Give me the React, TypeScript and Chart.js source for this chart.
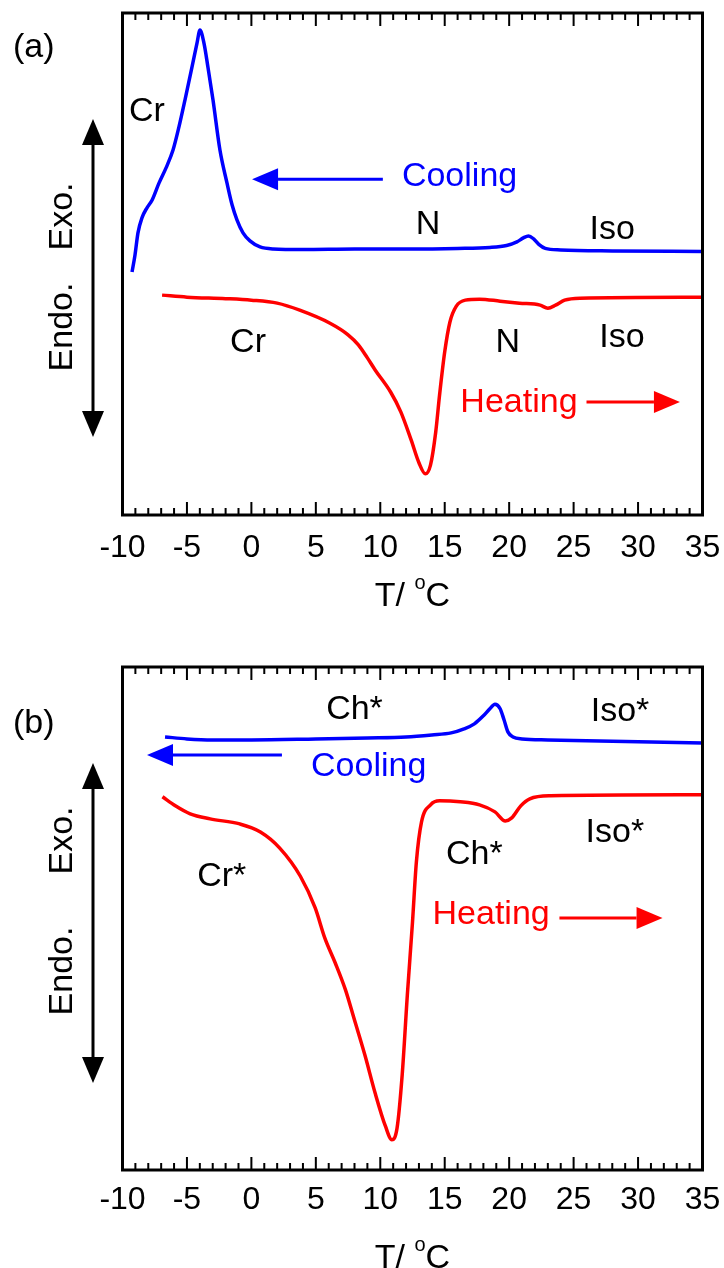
import React, { useEffect, useRef } from "react";
import { Chart, registerables } from "chart.js";

Chart.register(...registerables);

const FONT = '"Liberation Sans", Arial, Helvetica, sans-serif';
const BLUE = "#0000ff";
const RED = "#ff0000";

// Temperature axis (°C)
const T_MIN = -10;
const T_MAX = 35;
const T_STEP = 5;

// ---------- Panel (a) ----------
const coolTempA = [
  -9.26, -9.03, -8.8, -8.49, -8.1, -7.71, -7.17, -6.63, -6.08, -5.62, -5.15, -4.61, -4.22, -3.99,
  -3.68, -3.37, -2.98, -2.44, -1.89, -1.5, -1.12, -0.65, -0.11, 0.67, 1.68, 4, 8, 12, 16, 18.5,
  19.8, 20.6, 21.1, 21.5, 21.9, 22.3, 22.8, 24, 28, 35,
];
const coolFlowA = [
  48.4, 51.8, 56.2, 59.2, 61.2, 62.7, 66.1, 69.1, 72.7, 77.3, 82.7, 89.2, 94.0, 96.6,
  94.0, 89.2, 82.7, 72.7, 66.1, 61.8, 58.8, 56.2, 54.6, 53.4, 53.0, 52.9, 53.0, 53.0, 53.1, 53.3,
  53.7, 54.4, 55.2, 55.6, 55.0, 53.9, 53.1, 52.8, 52.6, 52.5,
];
const heatTempA = [
  -6.93, -5, -2, 0, 2, 3.75, 6.1, 7.5, 8.3, 9.0, 9.6, 10.8, 11.6, 12.4, 13.0, 13.5, 13.9, 14.3,
  14.6, 15.0, 15.4, 15.9, 16.6, 17.7, 19.3, 20.8, 22.4, 23.0, 23.6, 24.3, 25.5, 35,
];
const heatFlowA = [
  43.8, 43.4, 43.1, 42.8, 42.2, 40.8, 38.2, 35.9, 33.9, 31.3, 28.9, 24.5, 20.5, 14.9, 10.4, 8.2,
  10.0, 16.5, 23.9, 32.5, 38.4, 41.6, 42.8, 43.0, 42.6, 42.2, 41.8, 41.2, 41.8, 42.8, 43.2, 43.4,
];

// ---------- Panel (b) ----------
const coolTempB = [
  -6.7, -5, -3, 0, 5, 9, 12, 14, 15.5, 16.5, 17.3, 18.0, 18.5, 18.9, 19.3, 19.6, 19.9, 20.3, 21,
  23, 35,
];
const coolFlowB = [
  86.1, 85.7, 85.5, 85.5, 85.7, 85.9, 86.1, 86.5, 86.9, 87.7, 88.7, 90.3, 91.7, 92.6, 91.7, 89.5,
  87.1, 86.1, 85.7, 85.5, 84.9,
];
const heatTempB = [
  -6.9, -5.9, -4.75, -3.2, -0.9, 0.7, 2.2, 3.8, 4.95, 5.7, 6.5, 7.3, 8.0, 8.8, 9.6, 10.4, 10.9,
  11.3, 11.7, 12.1, 12.5, 12.8, 13.2, 13.9, 14.6, 16.2, 17.7, 18.9, 19.7, 20.2, 20.9, 21.6, 23.2,
  35,
];
const heatFlowB = [
  74.2, 72.4, 70.8, 69.8, 68.8, 67.2, 64.0, 58.4, 52.1, 46.1, 41.2, 35.8, 29.8, 22.9, 15.3, 8.7,
  6.0, 8.3, 18.9, 34.8, 49.3, 61.2, 69.2, 72.6, 73.4, 73.2, 72.6, 71.2, 69.4, 70.0, 72.4, 73.8,
  74.4, 74.6,
];

// Texts
const axisTitleParts = ["T/ ", "o", "C"];
const exoText = "Exo.";
const endoText = "Endo.";

const zip = (t: number[], v: number[]) => t.map((x, i) => ({ x, y: v[i] }));

function drawArrow(ctx: CanvasRenderingContext2D, x1: number, y1: number, x2: number, y2: number, color: string, lw = 3, headLen = 26, headHalf = 11) {
  const ang = Math.atan2(y2 - y1, x2 - x1);
  const bx = x2 - headLen * Math.cos(ang);
  const by = y2 - headLen * Math.sin(ang);
  ctx.strokeStyle = color;
  ctx.fillStyle = color;
  ctx.lineWidth = lw;
  ctx.beginPath();
  ctx.moveTo(x1, y1);
  ctx.lineTo(bx, by);
  ctx.stroke();
  ctx.beginPath();
  ctx.moveTo(x2, y2);
  ctx.lineTo(bx + headHalf * Math.sin(ang), by - headHalf * Math.cos(ang));
  ctx.lineTo(bx - headHalf * Math.sin(ang), by + headHalf * Math.cos(ang));
  ctx.closePath();
  ctx.fill();
}

const decorPlugin = {
  id: "decor",
  afterDraw(chart: any, _args: any, o: any) {
    const { ctx, chartArea: a, scales } = chart;
    const xs = scales.x;
    const ys = scales.y;
    ctx.save();
    // inward ticks (top & bottom)
    ctx.strokeStyle = "#000";
    ctx.lineWidth = 2;
    for (let t = T_MIN + 1; t < T_MAX; t++) {
      const px = xs.getPixelForValue(t);
      const len = t % T_STEP === 0 ? 13 : 7;
      ctx.beginPath();
      ctx.moveTo(px, a.bottom);
      ctx.lineTo(px, a.bottom - len);
      ctx.moveTo(px, a.top);
      ctx.lineTo(px, a.top + len);
      ctx.stroke();
    }
    // frame
    ctx.lineWidth = 3;
    ctx.strokeRect(a.left, a.top, a.right - a.left, a.bottom - a.top);

    // annotations
    ctx.font = `34px ${FONT}`;
    ctx.textAlign = "center";
    ctx.textBaseline = "middle";
    for (const n of o.notes) {
      ctx.fillStyle = n.color;
      ctx.fillText(n.text, xs.getPixelForValue(n.t), ys.getPixelForValue(n.v));
    }
    for (const ar of o.arrows) {
      drawArrow(ctx, xs.getPixelForValue(ar.from[0]), ys.getPixelForValue(ar.from[1]), xs.getPixelForValue(ar.to[0]), ys.getPixelForValue(ar.to[1]), ar.color);
    }

    // panel label
    ctx.fillStyle = "#000";
    ctx.textAlign = "left";
    ctx.textBaseline = "alphabetic";
    ctx.font = `34px ${FONT}`;
    ctx.fillText(o.panelLabel.text, o.panelLabel.x, o.panelLabel.y);

    // Endo./Exo. rotated labels
    const yl = o.yLabel;
    ctx.save();
    ctx.translate(yl.x, yl.exoY);
    ctx.rotate(-Math.PI / 2);
    ctx.textAlign = "center";
    ctx.fillText(exoText, 0, 0);
    ctx.restore();
    ctx.save();
    ctx.translate(yl.x, yl.endoY);
    ctx.rotate(-Math.PI / 2);
    ctx.textAlign = "center";
    ctx.fillText(endoText, 0, 0);
    ctx.restore();
    // double arrow
    const mid = (yl.tipTop + yl.tipBottom) / 2;
    drawArrow(ctx, yl.arrowX, mid, yl.arrowX, yl.tipTop, "#000", 3, 26, 11);
    drawArrow(ctx, yl.arrowX, mid, yl.arrowX, yl.tipBottom, "#000", 3, 26, 11);

    // axis title with superscript
    const big = `34px ${FONT}`;
    const small = `20px ${FONT}`;
    ctx.font = big;
    const w1 = ctx.measureText(axisTitleParts[0]).width;
    const w3 = ctx.measureText(axisTitleParts[2]).width;
    ctx.font = small;
    const w2 = ctx.measureText(axisTitleParts[1]).width;
    const cx = (a.left + a.right) / 2;
    let sx = cx - (w1 + w2 + w3) / 2;
    ctx.fillStyle = "#000";
    ctx.textAlign = "left";
    ctx.font = big;
    ctx.fillText(axisTitleParts[0], sx, o.titleBaseline);
    sx += w1;
    ctx.font = small;
    ctx.fillText(axisTitleParts[1], sx, o.titleBaseline - 17);
    sx += w2;
    ctx.font = big;
    ctx.fillText(axisTitleParts[2], sx, o.titleBaseline);
    ctx.restore();
  },
};

const panels = [
  {
    key: "a",
    canvasTop: 0,
    canvasHeight: 630,
    padTop: 13,
    axisH: 115,
    labelPad: 14,
    coolT: coolTempA,
    coolV: coolFlowA,
    heatT: heatTempA,
    heatV: heatFlowA,
    decor: {
      notes: [
        { text: "Cr", color: "#000", t: -8.1, v: 80.3 },
        { text: "Cooling", color: BLUE, t: 16.15, v: 67.5 },
        { text: "N", color: "#000", t: 13.7, v: 57.8 },
        { text: "Iso", color: "#000", t: 28.0, v: 56.8 },
        { text: "Cr", color: "#000", t: -0.26, v: 34.3 },
        { text: "N", color: "#000", t: 19.9, v: 34.3 },
        { text: "Iso", color: "#000", t: 28.75, v: 35.3 },
        { text: "Heating", color: RED, t: 20.76, v: 22.3 },
      ],
      arrows: [
        { from: [10.2, 66.9], to: [0.05, 66.9], color: BLUE },
        { from: [26.0, 22.5], to: [33.25, 22.5], color: RED },
      ],
      panelLabel: { text: "(a)", x: 13, y: 57 },
      yLabel: { x: 72, exoY: 216.5, endoY: 327, arrowX: 93, tipTop: 119, tipBottom: 437 },
      titleBaseline: 606,
    },
  },
  {
    key: "b",
    canvasTop: 630,
    canvasHeight: 638,
    padTop: 37,
    axisH: 98,
    labelPad: 11.3,
    coolT: coolTempB,
    coolV: coolFlowB,
    heatT: heatTempB,
    heatV: heatFlowB,
    decor: {
      notes: [
        { text: "Ch*", color: "#000", t: 8.0, v: 91.5 },
        { text: "Iso*", color: "#000", t: 28.6, v: 91.1 },
        { text: "Cooling", color: BLUE, t: 9.1, v: 80.1 },
        { text: "Cr*", color: "#000", t: -2.3, v: 58.3 },
        { text: "Ch*", color: "#000", t: 17.3, v: 62.6 },
        { text: "Iso*", color: "#000", t: 28.2, v: 67.0 },
        { text: "Heating", color: RED, t: 18.6, v: 50.7 },
      ],
      arrows: [
        { from: [2.37, 82.5], to: [-8.1, 82.5], color: BLUE },
        { from: [23.9, 50.1], to: [31.9, 50.1], color: RED },
      ],
      panelLabel: { text: "(b)", x: 13, y: 103 },
      yLabel: { x: 72, exoY: 210.5, endoY: 341, arrowX: 93, tipTop: 133, tipBottom: 453 },
      titleBaseline: 637.5,
    },
  },
];

function Panel({ p }: { p: any }) {
  const ref = useRef<HTMLCanvasElement>(null);
  useEffect(() => {
    if (!ref.current) return;
    const chart = new Chart(ref.current, {
      type: "line",
      data: {
        datasets: [
          {
            data: zip(p.coolT, p.coolV),
            borderColor: BLUE,
            borderWidth: 3.5,
            pointRadius: 0,
            cubicInterpolationMode: "monotone",
            fill: false,
          },
          {
            data: zip(p.heatT, p.heatV),
            borderColor: RED,
            borderWidth: 3.5,
            pointRadius: 0,
            cubicInterpolationMode: "monotone",
            fill: false,
          },
        ],
      },
      options: {
        animation: false,
        responsive: false,
        maintainAspectRatio: false,
        parsing: false,
        layout: { padding: { left: 122.5, right: 21.5, top: p.padTop, bottom: 0 } },
        plugins: {
          legend: { display: false },
          tooltip: { enabled: false },
          decor: p.decor,
        },
        scales: {
          x: {
            type: "linear",
            position: "bottom",
            min: T_MIN,
            max: T_MAX,
            afterFit: (s: any) => {
              s.height = p.axisH;
              s.paddingLeft = 0;
              s.paddingRight = 0;
            },
            grid: { display: false, drawTicks: false },
            border: { display: false },
            ticks: {
              stepSize: T_STEP,
              color: "#000",
              padding: p.labelPad,
              maxRotation: 0,
              autoSkip: false,
              font: { family: FONT, size: 32 },
            },
          },
          y: { type: "linear", display: false, min: 0, max: 100 },
        },
      } as any,
      plugins: [decorPlugin],
    });
    return () => chart.destroy();
  }, []);
  return (
    <canvas
      ref={ref}
      width={724}
      height={p.canvasHeight}
      style={{ position: "absolute", left: 0, top: p.canvasTop, width: 724, height: p.canvasHeight, display: "block" }}
    />
  );
}

export default function App() {
  return (
    <div style={{ position: "absolute", left: 0, top: 0, width: 724, height: 1268, background: "#fff", overflow: "hidden" }}>
      {panels.map((p) => (
        <Panel key={p.key} p={p} />
      ))}
    </div>
  );
}
